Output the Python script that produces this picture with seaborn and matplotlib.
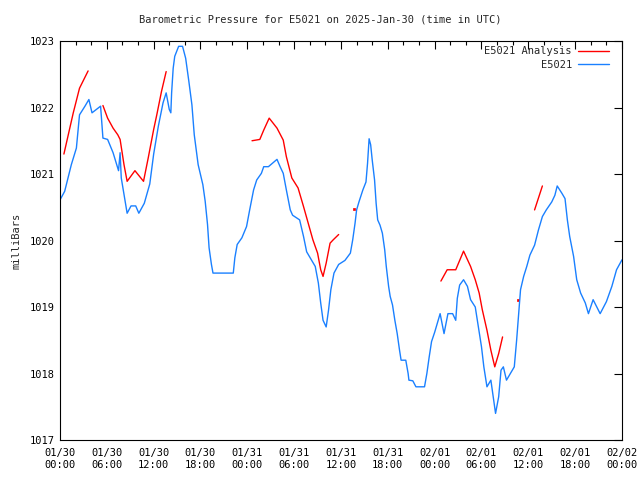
import matplotlib
matplotlib.use("Agg")
import matplotlib.pyplot as plt
import matplotlib.dates as mdates
import numpy as np
import pandas as pd
import seaborn as sns

# Station readings (hours after 2025-01-30 00:00 UTC, pressure in mbar)
obs_hours = [0.0, 0.6, 1.45, 2.1, 2.5, 3.2, 3.7, 4.1, 5.2, 5.5, 6.1, 6.8, 7.5, 7.7, 7.85,
             8.6, 9.1, 9.7, 10.1, 10.8, 11.5, 12.0, 12.6, 13.2, 13.6, 14.0, 14.2, 14.3,
             14.5, 14.7, 15.2, 15.7, 16.1, 16.5, 16.9, 17.2, 17.7, 18.3, 18.6, 18.9, 19.1,
             19.4, 19.6, 22.2, 22.4, 22.7, 23.3, 23.9, 24.3, 24.8, 25.2, 25.8, 26.1, 26.7,
             27.3, 27.8, 28.2, 28.6, 29.0, 29.5, 29.8, 30.7, 31.2, 31.6, 32.2, 32.7, 33.1,
             33.4, 33.7, 34.1, 34.4, 34.7, 35.1, 35.7, 36.5, 37.2, 37.5, 37.8, 38.0, 38.3,
             38.8, 39.2, 39.4, 39.6, 39.8, 40.0, 40.3, 40.5, 40.7, 41.0, 41.3, 41.6, 41.8,
             42.1, 42.3, 42.6, 42.9, 43.2, 43.5, 43.7, 44.3, 44.6, 44.7, 45.2, 45.6, 46.7,
             47.0, 47.3, 47.6, 48.0, 48.7, 49.2, 49.7, 50.3, 50.7, 50.9, 51.2, 51.7, 52.2,
             52.6, 53.2, 53.6, 54.0, 54.3, 54.7, 55.2, 55.5, 55.8, 56.2, 56.5, 56.8, 57.2,
             57.6, 58.2, 58.5, 58.7, 59.0, 59.4, 59.8, 60.2, 60.8, 61.3, 61.8, 62.3, 63.0,
             63.4, 63.7, 64.3, 64.7, 65.0, 65.3, 65.8, 66.2, 66.7, 67.3, 67.7, 68.3, 69.2,
             70.0, 70.7, 71.3, 72.0]
obs_mbar = [1020.61, 1020.74, 1021.14, 1021.39, 1021.89, 1022.02, 1022.12, 1021.92, 1022.02,
            1021.54, 1021.52, 1021.32, 1021.05, 1021.32, 1020.94, 1020.41, 1020.52, 1020.52,
            1020.41, 1020.56, 1020.85, 1021.3, 1021.72, 1022.07, 1022.22, 1021.97, 1021.92,
            1022.22, 1022.59, 1022.77, 1022.92, 1022.92, 1022.74, 1022.40, 1022.04, 1021.59,
            1021.14, 1020.84, 1020.59, 1020.24, 1019.89, 1019.64, 1019.51, 1019.51, 1019.74,
            1019.94, 1020.04, 1020.21, 1020.46, 1020.76, 1020.91, 1021.01, 1021.11, 1021.11,
            1021.17, 1021.22, 1021.11, 1021.01, 1020.76, 1020.46, 1020.38, 1020.31, 1020.06,
            1019.83, 1019.71, 1019.61, 1019.36, 1019.06, 1018.80, 1018.70, 1018.95, 1019.26,
            1019.51, 1019.64, 1019.70, 1019.81, 1020.01, 1020.26, 1020.46, 1020.58, 1020.76,
            1020.88, 1021.16, 1021.53, 1021.44, 1021.21, 1020.91, 1020.56, 1020.31, 1020.23,
            1020.11, 1019.86, 1019.61, 1019.31, 1019.16, 1019.03, 1018.80, 1018.60, 1018.35,
            1018.20, 1018.20, 1018.00, 1017.90, 1017.89, 1017.80, 1017.80, 1018.00, 1018.25,
            1018.48, 1018.62, 1018.90, 1018.60, 1018.90, 1018.90, 1018.80, 1019.13, 1019.33,
            1019.41, 1019.31, 1019.11, 1019.00, 1018.70, 1018.40, 1018.10, 1017.80, 1017.90,
            1017.65, 1017.40, 1017.65, 1018.05, 1018.10, 1017.90, 1017.98, 1018.10, 1018.50,
            1018.80, 1019.26, 1019.46, 1019.61, 1019.78, 1019.93, 1020.16, 1020.36, 1020.46,
            1020.58, 1020.68, 1020.82, 1020.71, 1020.63, 1020.31, 1020.06, 1019.76, 1019.41,
            1019.21, 1019.06, 1018.90, 1019.11, 1018.90, 1019.08, 1019.31, 1019.56, 1019.71]

# Analysis values, in separate runs with gaps between them
ana_hours = [
    [0.5, 1.7, 2.5, 3.6],
    [5.5, 6.1, 6.8, 7.4, 7.7, 8.2, 8.6, 9.6, 10.7, 11.3, 12.0, 12.4, 13.0, 13.6],
    [24.6, 25.6, 26.1, 26.8, 27.8, 28.6, 29.0, 29.7, 30.5, 31.2, 31.8, 32.4, 33.0, 33.4,
     33.7, 34.1, 34.6, 35.0, 35.7],
    [37.7],
    [48.8, 49.6, 50.7, 51.7, 52.6, 53.2, 53.7, 54.1, 54.7, 55.2, 55.7, 56.2, 56.7],
    [58.7],
    [60.8, 61.8],
]
ana_mbar = [
    [1021.30, 1021.92, 1022.29, 1022.55],
    [1022.03, 1021.84, 1021.69, 1021.59, 1021.52, 1021.14, 1020.89, 1021.05, 1020.89,
     1021.24, 1021.67, 1021.89, 1022.24, 1022.54],
    [1021.50, 1021.52, 1021.66, 1021.84, 1021.69, 1021.51, 1021.26, 1020.94, 1020.79,
     1020.51, 1020.26, 1020.01, 1019.81, 1019.56, 1019.46, 1019.66, 1019.96, 1020.01,
     1020.09],
    [1020.47],
    [1019.39, 1019.56, 1019.56, 1019.84, 1019.61, 1019.41, 1019.21, 1018.96, 1018.65,
     1018.35, 1018.10, 1018.30, 1018.55],
    [1019.11],
    [1020.46, 1020.82],
]

start = pd.Timestamp("2025-01-30 00:00")
obs = pd.DataFrame({"time": start + pd.to_timedelta(obs_hours, unit="h"),
                    "mbar": obs_mbar})
ana = pd.concat(
    [pd.DataFrame({"time": start + pd.to_timedelta(h, unit="h"), "mbar": v, "seg": i})
     for i, (h, v) in enumerate(zip(ana_hours, ana_mbar))],
    ignore_index=True,
)
seg_sizes = ana.groupby("seg")["seg"].transform("size")
ana_lines = ana[seg_sizes > 1]
ana_dots = ana[seg_sizes == 1]

sns.set_style("white")
plt.rcParams["font.family"] = ["DejaVu Sans Mono"]

red = "#ff0000"
blue = "#1a80ff"

fig = plt.figure(figsize=(6.4, 4.8), dpi=100)
ax = fig.add_axes([60 / 640, 40 / 480, 562 / 640, 399 / 480])

sns.lineplot(data=ana_lines, x="time", y="mbar", units="seg", estimator=None,
             color=red, lw=1.0, ax=ax, legend=False)
sns.scatterplot(data=ana_dots, x="time", y="mbar", color=red, edgecolor=red,
                marker="s", s=2, linewidth=0.5, ax=ax, legend=False)
sns.lineplot(data=obs, x="time", y="mbar", color=blue, lw=1.0, ax=ax, legend=False)

ax.set_xlim(start, start + pd.Timedelta(hours=72))
ax.set_ylim(1017, 1023)
ax.set_yticks(np.arange(1017, 1024, 1))
ax.xaxis.set_major_locator(mdates.HourLocator(byhour=range(0, 24, 6)))
ax.xaxis.set_minor_locator(mdates.HourLocator(byhour=range(0, 24, 2)))
ax.xaxis.set_major_formatter(mdates.DateFormatter("%m/%d\n%H:%M"))
ax.tick_params(axis="both", which="both", direction="in", top=True, right=True,
               labelsize=7.5, colors="black")
ax.tick_params(which="major", length=6, width=0.8)
ax.tick_params(which="minor", length=3, width=0.8)
ax.tick_params(axis="x", pad=6)
for s in ax.spines.values():
    s.set_color("black")
    s.set_linewidth(0.8)

ax.set_xlabel("")
ax.set_ylabel("milliBars", fontsize=7.5, labelpad=6)
fig.suptitle("Barometric Pressure for E5021 on 2025-Jan-30 (time in UTC)",
             fontsize=7.5, y=0.97)

handles = [plt.Line2D([], [], color=red, lw=1.0), plt.Line2D([], [], color=blue, lw=1.0)]
ax.legend(handles, ["E5021 Analysis", "E5021"], loc="upper right",
          bbox_to_anchor=(0.985, 0.997), frameon=False, markerfirst=False, fontsize=7.5,
          handlelength=3.0, labelspacing=0.35, borderaxespad=0.0, handletextpad=0.6)

fig.savefig("out.png", dpi=100)
